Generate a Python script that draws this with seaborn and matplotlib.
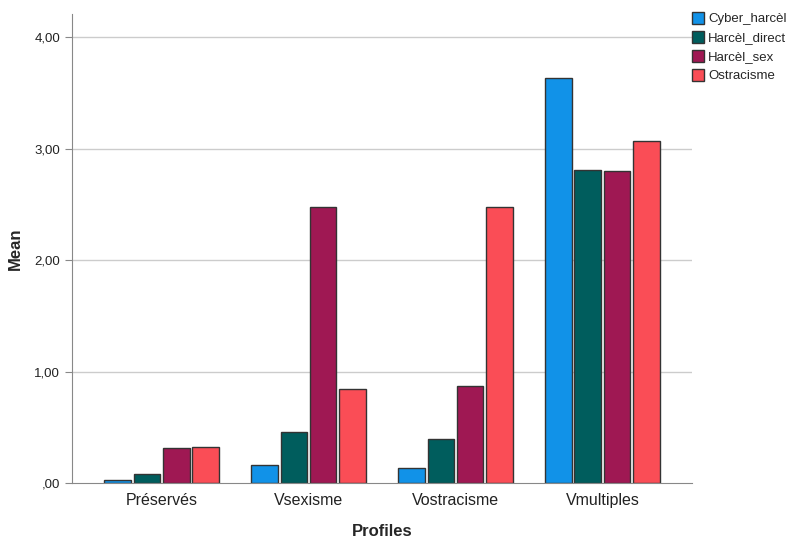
import numpy as np
import pandas as pd
import matplotlib.pyplot as plt
import seaborn as sns
from matplotlib.ticker import FuncFormatter

profiles = ["Préservés", "Vsexisme", "Vostracisme", "Vmultiples"]
variables = ["Cyber_harcèl", "Harcèl_direct", "Harcèl_sex", "Ostracisme"]
cyber = [0.03, 0.16, 0.13, 3.64]
direct = [0.08, 0.46, 0.39, 2.81]
sex = [0.31, 2.48, 0.87, 2.80]
ostra = [0.32, 0.84, 2.48, 3.07]
colors = ["#1192e8", "#005d5d", "#9f1853", "#fa4d56"]

df = pd.DataFrame({
    "Profiles": profiles * 4,
    "Variable": np.repeat(variables, 4),
    "Mean": cyber + direct + sex + ostra,
})

sns.set_style("white")
plt.rcParams['font.family'] = ['Liberation Sans', 'DejaVu Sans']

fig = plt.figure(figsize=(8, 5.42), dpi=100)
ax = fig.add_axes([0.09, 0.109, 0.775, 0.865])

sns.barplot(data=df, x="Profiles", y="Mean", hue="Variable", palette=colors,
            saturation=1, width=0.8, gap=0.1, edgecolor="#333333", linewidth=1,
            ax=ax, errorbar=None)

ax.set_xlim(-0.61, 3.61)
ax.set_ylim(0, 4.21)
ax.set_yticks([0, 1, 2, 3, 4])
ax.yaxis.set_major_formatter(FuncFormatter(lambda v, p: ",00" if v == 0 else f"{v:.2f}".replace(".", ",")))
for v in [1, 2, 3, 4]:
    ax.axhline(v, color="#cccccc", lw=1, zorder=0)
ax.set_axisbelow(True)

for s in ["top", "right"]:
    ax.spines[s].set_visible(False)
for s in ["left", "bottom"]:
    ax.spines[s].set_color("#888888")
ax.tick_params(axis="y", left=True, length=5, color="#888888", labelsize=9.5, labelcolor="#222222")
ax.tick_params(axis="x", bottom=False, labelsize=11.5, labelcolor="#222222")

ax.set_xlabel("Profiles", fontsize=12, fontweight="bold", labelpad=12)
ax.set_ylabel("Mean", fontsize=12, fontweight="bold", labelpad=8)

ax.legend(title=None, loc="upper left", bbox_to_anchor=(0.995, 1.01), frameon=False,
          fontsize=9.5, handlelength=0.95, handleheight=1.0, handletextpad=0.3,
          labelspacing=0.42, borderaxespad=0.0, borderpad=0.2)

fig.savefig("out.png", dpi=100)
